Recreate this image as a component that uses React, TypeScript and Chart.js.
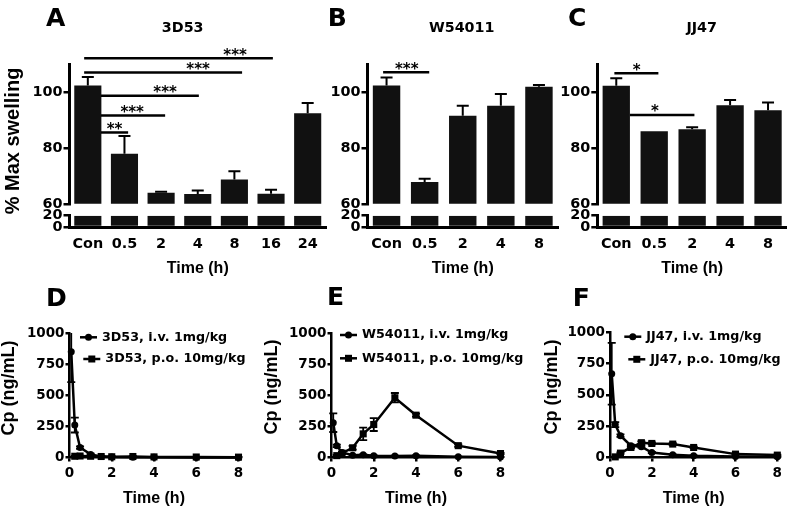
import React, { useEffect, useRef } from "react";
import { Chart, registerables } from "chart.js";

Chart.register(...registerables);

const INK = "#000000";
const BAR_FILL = "#111111";
const TICK_FAMILY = "'DejaVu Sans', Verdana, sans-serif";
const TITLE_FAMILY = "'Liberation Sans', Arial, Helvetica, sans-serif";

// ---------------- Panels A–C : % max swelling ----------------
const catsA = ["Con", "0.5", "2", "4", "8", "16", "24"];
const swellA = [102.5, 78, 64, 63.5, 68.7, 63.6, 92.5];
const swellErrA = [3, 6.3, 0.3, 1.3, 3, 1.4, 3.7];

const catsB = ["Con", "0.5", "2", "4", "8"];
const swellB = [102.5, 67.8, 91.6, 95.2, 102];
const swellErrB = [2.8, 1.2, 3.6, 4.2, 0.6];

const catsC = ["Con", "0.5", "2", "4", "8"];
const swellC = [102.4, 86, 86.8, 95.4, 93.6];
const swellErrC = [2.7, 0, 0.7, 1.9, 2.8];

const upperTicks = [60, 80, 100];
const lowerTicks = [0, 20];
const upperRange = [60, 110];
const lowerRange = [0, 20];

// significance brackets: [fromCategory, toCategory, yValue, label, labelCategory]
const sigA: [number, number, number, string, number][] = [
  [-0.1, 5.05, 112.2, "***", 4.02],
  [-0.1, 4.21, 107.1, "***", 3.01],
  [0.36, 3.03, 98.8, "***", 2.11],
  [0.36, 2.11, 91.7, "***", 1.21],
  [0.36, 1.1, 85.6, "**", 0.73],
];
const sigB: [number, number, number, string, number][] = [[-0.09, 1.12, 107.2, "***", 0.53]];
const sigC: [number, number, number, string, number][] = [
  [-0.05, 1.11, 106.9, "*", 0.54],
  [0.36, 2.06, 91.9, "*", 1.02],
];

// ---------------- Panels D–F : plasma concentration ----------------
const ivTime = [0.083, 0.25, 0.5, 1, 1.5, 2, 3, 4, 6, 8];
const poTime = [0.25, 0.5, 1, 1.5, 2, 3, 4, 6, 8];
const timeTicks = [0, 2, 4, 6, 8];
const concTicks = [0, 250, 500, 750, 1000];

const ivD = [849, 261, 80, 25, 8, 5, 3, 2, 1, 1];
const ivErrD = [243, 60, 10, 5, 2, 1, 1, 0, 0, 0];
const poD = [10, 12, 10, 8, 6, 8, 5, 4, 3];
const poErrD = [3, 3, 3, 2, 2, 2, 1, 1, 1];

const ivE = [280, 94, 40, 18, 22, 14, 12, 14, 6, 4];
const ivErrE = [75, 10, 5, 3, 3, 2, 2, 2, 1, 1];
const poE = [15, 35, 78, 190, 265, 480, 340, 95, 32];
const poErrE = [5, 8, 15, 50, 52, 38, 12, 10, 5];

const ivF = [667, 262, 174, 94, 86, 40, 21, 14, 8, 5];
const ivErrF = [246, 20, 10, 8, 8, 5, 3, 2, 1, 1];
const poF = [5, 35, 80, 118, 112, 107, 80, 27, 19];
const poErrF = [2, 5, 8, 10, 8, 8, 6, 4, 3];

type Box = { left: number; top: number; width: number; height: number };
type Area = { left: number; top: number; right: number; bottom: number };

function padFor(box: Box, area: Area, xHeight: number) {
  return {
    left: 0,
    top: area.top - box.top,
    right: box.left + box.width - area.right,
    bottom: box.top + box.height - area.bottom - xHeight,
  };
}

const plain = (v: any) => String(v);

function yAxis(range: number[], ticks: number[], box: Box, area: Area, tickLen: number, size: number) {
  return {
    type: "linear",
    min: range[0],
    max: range[1],
    beginAtZero: false,
    afterBuildTicks: (s: any) => {
      s.ticks = ticks.map((v) => ({ value: v }));
    },
    afterFit: (s: any) => {
      s.width = area.left - box.left;
    },
    border: { display: true, color: INK, width: 3 },
    grid: { display: true, drawOnChartArea: false, drawTicks: true, tickLength: tickLen, color: INK, lineWidth: 2.5 },
    ticks: {
      color: INK,
      font: { family: TICK_FAMILY, size, weight: "bold", lineHeight: 1 },
      padding: 1,
      autoSkip: false,
      callback: plain,
    },
  };
}

function makeBarErrorPlugin(errs: number[], cap: number) {
  return {
    id: "barErrors",
    afterDatasetsDraw(chart: any) {
      const ctx = chart.ctx;
      const meta = chart.getDatasetMeta(0);
      const ys = chart.scales.y;
      const vals = chart.data.datasets[0].data;
      ctx.save();
      ctx.strokeStyle = INK;
      ctx.lineWidth = 2;
      meta.data.forEach((bar: any, i: number) => {
        const e = errs[i];
        if (!e) return;
        const x = bar.x;
        const y0 = ys.getPixelForValue(vals[i]);
        const y1 = ys.getPixelForValue(vals[i] + e);
        ctx.beginPath();
        ctx.moveTo(x, y0);
        ctx.lineTo(x, y1);
        ctx.moveTo(x - cap, y1);
        ctx.lineTo(x + cap, y1);
        ctx.stroke();
      });
      ctx.restore();
    },
  };
}

function makeSigPlugin(items: [number, number, number, string, number][]) {
  return {
    id: "sigBrackets",
    afterDatasetsDraw(chart: any) {
      const ctx = chart.ctx;
      const xs = chart.scales.x;
      const ys = chart.scales.y;
      ctx.save();
      ctx.strokeStyle = INK;
      ctx.fillStyle = INK;
      ctx.lineWidth = 2.5;
      ctx.font = `bold 15px ${TICK_FAMILY}`;
      ctx.textAlign = "center";
      ctx.textBaseline = "alphabetic";
      items.forEach(([x1, x2, y, label, lx]) => {
        const py = ys.getPixelForValue(y);
        ctx.beginPath();
        ctx.moveTo(xs.getPixelForValue(x1), py);
        ctx.lineTo(xs.getPixelForValue(x2), py);
        ctx.stroke();
        ctx.fillText(label, xs.getPixelForValue(lx), py + 1.4);
      });
      ctx.restore();
    },
  };
}

function barUpperConfig(cats: string[], values: number[], errs: number[], sig: any, box: Box, area: Area, barPct: number) {
  return {
    type: "bar",
    data: {
      labels: cats,
      datasets: [{ data: values, backgroundColor: BAR_FILL, borderWidth: 0, barPercentage: barPct, categoryPercentage: 1 }],
    },
    options: {
      responsive: false,
      maintainAspectRatio: false,
      animation: false,
      devicePixelRatio: 1,
      events: [],
      layout: { autoPadding: false, padding: padFor(box, area, 0) },
      plugins: { legend: { display: false }, tooltip: { enabled: false } },
      scales: {
        x: { type: "category", display: false, offset: true },
        y: yAxis(upperRange, upperTicks, box, area, 6, 14.4),
      },
    },
    plugins: [makeBarErrorPlugin(errs, 6), makeSigPlugin(sig)],
  };
}

function barLowerConfig(cats: string[], values: number[], box: Box, area: Area, barPct: number, xHeight: number) {
  return {
    type: "bar",
    data: {
      labels: cats,
      datasets: [
        {
          data: values.map((v) => Math.min(v, lowerRange[1])),
          backgroundColor: BAR_FILL,
          borderWidth: 0,
          barPercentage: barPct,
          categoryPercentage: 1,
        },
      ],
    },
    options: {
      responsive: false,
      maintainAspectRatio: false,
      animation: false,
      devicePixelRatio: 1,
      events: [],
      layout: { autoPadding: false, padding: padFor(box, area, xHeight) },
      plugins: { legend: { display: false }, tooltip: { enabled: false } },
      scales: {
        x: {
          type: "category",
          offset: true,
          grid: { display: false },
          border: { display: true, color: INK, width: 3 },
          ticks: {
            color: INK,
            font: { family: TICK_FAMILY, size: 14.4, weight: "bold", lineHeight: 1 },
            padding: 2,
            autoSkip: false,
            maxRotation: 0,
            minRotation: 0,
          },
          title: {
            display: true,
            text: "Time (h)",
            color: INK,
            font: { family: TITLE_FAMILY, size: 16, weight: "bold", lineHeight: 1 },
            padding: 0,
          },
          afterFit: (s: any) => {
            s.height = xHeight;
          },
        },
        y: yAxis(lowerRange, lowerTicks, box, area, 6, 14.4),
      },
    },
  };
}

function makeLineErrorPlugin(errSets: number[][]) {
  return {
    id: "lineErrors",
    afterDatasetsDraw(chart: any) {
      const ctx = chart.ctx;
      const ys = chart.scales.y;
      const { top, bottom } = chart.chartArea;
      ctx.save();
      ctx.strokeStyle = INK;
      ctx.lineWidth = 1.8;
      errSets.forEach((errs, d) => {
        const meta = chart.getDatasetMeta(d);
        const pts = chart.data.datasets[d].data;
        meta.data.forEach((pt: any, i: number) => {
          const e = errs[i];
          if (!e) return;
          const v = pts[i].y;
          const yHi = ys.getPixelForValue(v + e);
          const yLo = ys.getPixelForValue(v - e);
          const a = Math.max(yHi, top);
          const b = Math.min(yLo, bottom);
          ctx.beginPath();
          ctx.moveTo(pt.x, a);
          ctx.lineTo(pt.x, b);
          if (yHi >= top) {
            ctx.moveTo(pt.x - 4, yHi);
            ctx.lineTo(pt.x + 4, yHi);
          }
          if (yLo <= bottom) {
            ctx.moveTo(pt.x - 4, yLo);
            ctx.lineTo(pt.x + 4, yLo);
          }
          ctx.stroke();
        });
      });
      ctx.restore();
    },
  };
}

function makeLegendPlugin(rows: { dx: number; dy: number }[]) {
  return {
    id: "pkLegend",
    afterDraw(chart: any) {
      const ctx = chart.ctx;
      const { left, top } = chart.chartArea;
      ctx.save();
      ctx.strokeStyle = INK;
      ctx.fillStyle = INK;
      ctx.lineWidth = 2.5;
      ctx.font = `bold 12.7px ${TICK_FAMILY}`;
      ctx.textAlign = "left";
      ctx.textBaseline = "middle";
      chart.data.datasets.forEach((ds: any, i: number) => {
        const r = rows[i];
        const x0 = left + r.dx;
        const y = top + r.dy;
        const len = 17;
        ctx.beginPath();
        ctx.moveTo(x0, y);
        ctx.lineTo(x0 + len, y);
        ctx.stroke();
        const cx = x0 + len / 2;
        if (ds.pointStyle === "rect") {
          ctx.fillRect(cx - 3.5, y - 3.5, 7, 7);
        } else {
          ctx.beginPath();
          ctx.arc(cx, y, 3.5, 0, Math.PI * 2);
          ctx.fill();
        }
        ctx.fillText(ds.label, x0 + len + 5, y);
      });
      ctx.restore();
    },
  };
}

function pkConfig(
  name: string,
  iv: number[],
  ivErr: number[],
  po: number[],
  poErr: number[],
  box: Box,
  area: Area,
  rows: { dx: number; dy: number }[],
  xHeight: number
) {
  const common = {
    showLine: true,
    borderColor: INK,
    backgroundColor: INK,
    borderWidth: 2.5,
    pointBorderWidth: 0,
    tension: 0,
    clip: false,
  };
  return {
    type: "scatter",
    data: {
      datasets: [
        {
          ...common,
          label: `${name}, i.v. 1mg/kg`,
          data: ivTime.map((t, i) => ({ x: t, y: iv[i] })),
          pointStyle: "circle",
          pointRadius: 3.5,
        },
        {
          ...common,
          label: `${name}, p.o. 10mg/kg`,
          data: poTime.map((t, i) => ({ x: t, y: po[i] })),
          pointStyle: "rect",
          pointRadius: 5,
        },
      ],
    },
    options: {
      responsive: false,
      maintainAspectRatio: false,
      animation: false,
      devicePixelRatio: 1,
      events: [],
      layout: { autoPadding: false, padding: padFor(box, area, xHeight) },
      plugins: { legend: { display: false }, tooltip: { enabled: false } },
      scales: {
        x: {
          type: "linear",
          min: 0,
          max: 8,
          afterBuildTicks: (s: any) => {
            s.ticks = timeTicks.map((v) => ({ value: v }));
          },
          afterFit: (s: any) => {
            s.height = xHeight;
          },
          border: { display: true, color: INK, width: 2.5 },
          grid: { display: true, drawOnChartArea: false, drawTicks: true, tickLength: 4, color: INK, lineWidth: 2.5 },
          ticks: {
            color: INK,
            font: { family: TICK_FAMILY, size: 13.5, weight: "bold", lineHeight: 1 },
            padding: 5,
            autoSkip: false,
            maxRotation: 0,
            callback: plain,
          },
          title: {
            display: true,
            text: "Time (h)",
            color: INK,
            font: { family: TITLE_FAMILY, size: 16, weight: "bold", lineHeight: 1 },
            padding: 0,
          },
        },
        y: {
          ...yAxis([0, 1000], concTicks, box, area, 4, 13.5),
          border: { display: true, color: INK, width: 2.5 },
        },
      },
    },
    plugins: [makeLineErrorPlugin([ivErr, poErr]), makeLegendPlugin(rows)],
  };
}

function ChartCanvas({ box, make }: { box: Box; make: () => any }) {
  const ref = useRef<HTMLCanvasElement | null>(null);
  useEffect(() => {
    if (!ref.current) return;
    const chart = new Chart(ref.current, make());
    return () => chart.destroy();
  }, []);
  return (
    <canvas
      ref={ref}
      width={box.width}
      height={box.height}
      style={{ position: "absolute", left: box.left, top: box.top, width: box.width, height: box.height }}
    />
  );
}

// layout boxes (canvas placement) and plot areas
const aUpBox = { left: 0, top: 30, width: 330, height: 182 };
const aUpArea = { left: 69.5, top: 64.5, right: 326, bottom: 204.3 };
const aLoBox = { left: 0, top: 205, width: 330, height: 80 };
const aLoArea = { left: 69.5, top: 215.7, right: 326, bottom: 227 };

const bUpBox = { left: 290, top: 30, width: 272, height: 182 };
const bUpArea = { left: 367.5, top: 64.5, right: 558, bottom: 204.3 };
const bLoBox = { left: 290, top: 205, width: 272, height: 80 };
const bLoArea = { left: 367.5, top: 215.7, right: 558, bottom: 227 };

const cUpBox = { left: 520, top: 30, width: 267, height: 182 };
const cUpArea = { left: 597.3, top: 64.5, right: 787, bottom: 204.3 };
const cLoBox = { left: 520, top: 205, width: 267, height: 80 };
const cLoArea = { left: 597.3, top: 215.7, right: 787, bottom: 227 };

const dBox = { left: 0, top: 300, width: 290, height: 212 };
const dArea = { left: 69.5, top: 333, right: 238.5, bottom: 457.5 };
const eBox = { left: 270, top: 300, width: 270, height: 212 };
const eArea = { left: 331.5, top: 333, right: 500.5, bottom: 457.5 };
const fBox = { left: 540, top: 300, width: 247, height: 212 };
const fArea = { left: 610, top: 332, right: 781.5, bottom: 457.5 };

const letterStyle: React.CSSProperties = {
  position: "absolute",
  font: `bold 25px ${TICK_FAMILY}`,
  lineHeight: "25px",
  color: INK,
  whiteSpace: "nowrap",
};

function Letter({ t, x, y }: { t: string; x: number; y: number }) {
  return <div style={{ ...letterStyle, left: x, top: y }}>{t}</div>;
}

function PanelTitle({ t, cx, cy }: { t: string; cx: number; cy: number }) {
  return (
    <div
      style={{
        position: "absolute",
        left: cx - 60,
        top: cy - 10,
        width: 120,
        height: 20,
        lineHeight: "20px",
        textAlign: "center",
        font: `bold 14.3px ${TICK_FAMILY}`,
        color: INK,
        whiteSpace: "nowrap",
      }}
    >
      {t}
    </div>
  );
}

function YTitle({ t, cx, cy, size }: { t: string; cx: number; cy: number; size: number }) {
  return (
    <div
      style={{
        position: "absolute",
        left: cx - 100,
        top: cy - 12,
        width: 200,
        height: 24,
        lineHeight: "24px",
        textAlign: "center",
        transform: "rotate(-90deg)",
        font: `bold ${size}px ${TITLE_FAMILY}`,
        color: INK,
        whiteSpace: "nowrap",
      }}
    >
      {t}
    </div>
  );
}

export default function App() {
  return (
    <div
      style={{
        position: "absolute",
        left: 0,
        top: 0,
        width: 787,
        height: 512,
        background: "#ffffff",
        overflow: "hidden",
      }}
    >
      <ChartCanvas box={aUpBox} make={() => barUpperConfig(catsA, swellA, swellErrA, sigA, aUpBox, aUpArea, 0.74)} />
      <ChartCanvas box={aLoBox} make={() => barLowerConfig(catsA, swellA, aLoBox, aLoArea, 0.74, 50)} />
      <ChartCanvas box={bUpBox} make={() => barUpperConfig(catsB, swellB, swellErrB, sigB, bUpBox, bUpArea, 0.72)} />
      <ChartCanvas box={bLoBox} make={() => barLowerConfig(catsB, swellB, bLoBox, bLoArea, 0.72, 50)} />
      <ChartCanvas box={cUpBox} make={() => barUpperConfig(catsC, swellC, swellErrC, sigC, cUpBox, cUpArea, 0.72)} />
      <ChartCanvas box={cLoBox} make={() => barLowerConfig(catsC, swellC, cLoBox, cLoArea, 0.72, 50)} />

      <ChartCanvas
        box={dBox}
        make={() =>
          pkConfig("3D53", ivD, ivErrD, poD, poErrD, dBox, dArea, [{ dx: 10.5, dy: 4.3 }, { dx: 13.8, dy: 26 }], 49)
        }
      />
      <ChartCanvas
        box={eBox}
        make={() =>
          pkConfig("W54011", ivE, ivErrE, poE, poErrE, eBox, eArea, [{ dx: 8.5, dy: 2 }, { dx: 8.5, dy: 25.3 }], 49)
        }
      />
      <ChartCanvas
        box={fBox}
        make={() =>
          pkConfig("JJ47", ivF, ivErrF, poF, poErrF, fBox, fArea, [{ dx: 14.3, dy: 4.7 }, { dx: 18.3, dy: 27.3 }], 49)
        }
      />

      <Letter t="A" x={46} y={5.4} />
      <Letter t="B" x={327.7} y={5.4} />
      <Letter t="C" x={568} y={5.4} />
      <Letter t="D" x={46} y={285} />
      <Letter t="E" x={327} y={284} />
      <Letter t="F" x={572.7} y={285} />

      <PanelTitle t="3D53" cx={182.7} cy={29} />
      <PanelTitle t="W54011" cx={461.7} cy={29} />
      <PanelTitle t="JJ47" cx={701.7} cy={29} />

      <YTitle t="% Max swelling" cx={13.3} cy={141} size={20} />
      <YTitle t="Cp (ng/mL)" cx={10} cy={387.5} size={18} />
      <YTitle t="Cp (ng/mL)" cx={273.4} cy={387} size={18} />
      <YTitle t="Cp (ng/mL)" cx={553.4} cy={387} size={18} />
    </div>
  );
}
